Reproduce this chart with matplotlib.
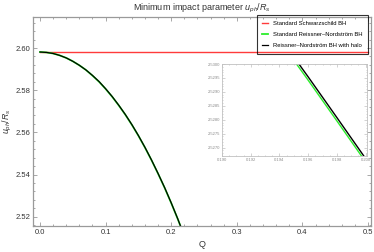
import matplotlib
matplotlib.use("Agg")
import matplotlib.pyplot as plt
from matplotlib.ticker import MultipleLocator, FormatStrFormatter

plt.rcParams["font.family"] = ["Liberation Sans", "DejaVu Sans"]
plt.rcParams["mathtext.fontset"] = "custom"
plt.rcParams["mathtext.rm"] = "Liberation Sans"
plt.rcParams["mathtext.it"] = "Liberation Sans:italic"

# main panel data
q_main = [0.00, 0.01, 0.02, 0.03, 0.04, 0.05, 0.06, 0.07, 0.08, 0.09, 0.10, 0.11,
          0.12, 0.13, 0.14, 0.15, 0.16, 0.17, 0.18, 0.19, 0.20, 0.21, 0.22]
u_rn = [2.5981, 2.5979, 2.5974, 2.5965, 2.5953, 2.5937, 2.5918, 2.5896, 2.5869,
        2.5840, 2.5806, 2.5769, 2.5728, 2.5684, 2.5636, 2.5584, 2.5528, 2.5468,
        2.5404, 2.5337, 2.5265, 2.5189, 2.5108]
u_halo = [2.5981, 2.5979, 2.5974, 2.5965, 2.5953, 2.5937, 2.5918, 2.5896, 2.5870,
          2.5841, 2.5807, 2.5770, 2.5729, 2.5685, 2.5637, 2.5585, 2.5529, 2.5469,
          2.5405, 2.5338, 2.5266, 2.5190, 2.5109]
q_schw = [0.0, 0.5]
u_schw = [2.5981, 2.5981]

# inset (zoom near Q = 0.2)
q_zoom = [0.192, 0.194, 0.196, 0.198, 0.200]
u_rn_zoom = [2.53229, 2.53085, 2.52942, 2.52796, 2.52649]
u_halo_zoom = [2.53241, 2.53097, 2.52954, 2.52808, 2.52661]

RED = "#ff3b3b"
GREEN = "#2bee2b"
SPINE = "#9a9a9a"
TXT = "#333333"

fig = plt.figure(figsize=(3.74, 2.52), dpi=100)
ax = fig.add_axes([0.0882, 0.1032, 0.9038, 0.8293])

ax.plot(q_schw, u_schw, color=RED, lw=1.0, label="Standard Schwarzschild BH")
ax.plot(q_main, u_rn, color=GREEN, lw=1.3, label="Standard Reissner\u2013Nordstr\u00f6m BH")
ax.plot(q_main, u_halo, color="black", lw=0.9, label="Reissner\u2013Nordstr\u00f6m BH with halo")

ax.set_xlim(-0.0107, 0.5046)
ax.set_ylim(2.5156, 2.6147)
ax.xaxis.set_major_locator(MultipleLocator(0.1))
ax.xaxis.set_minor_locator(MultipleLocator(0.02))
ax.yaxis.set_major_locator(MultipleLocator(0.02))
ax.yaxis.set_minor_locator(MultipleLocator(0.004))
ax.xaxis.set_major_formatter(FormatStrFormatter("%.1f"))
ax.yaxis.set_major_formatter(FormatStrFormatter("%.2f"))
ax.tick_params(which="both", direction="in", top=True, right=True,
               color=SPINE, labelsize=5.5, labelcolor=TXT, width=0.6, pad=2)
ax.tick_params(which="major", length=3)
ax.tick_params(which="minor", length=1.6)
for s in ax.spines.values():
    s.set_color(SPINE)
    s.set_linewidth(0.9)

ax.set_title("Minimum impact parameter $u_{ph}/R_s$", fontsize=6.5, color=TXT, pad=5)
ax.set_xlabel("Q", fontsize=6.5, color=TXT, labelpad=3)
ax.set_ylabel("$u_{ph}/R_s$", fontsize=6.3, color=TXT, labelpad=1)

leg = ax.legend(loc="upper right", bbox_to_anchor=(0.984, 0.9405),
                bbox_transform=fig.transFigure, fontsize=4.2, frameon=True,
                fancybox=False, borderaxespad=0, handlelength=0.9,
                handletextpad=0.85, borderpad=1.0, labelspacing=1.0)
leg.get_frame().set_facecolor("none")
leg.get_frame().set_edgecolor("black")
leg.get_frame().set_linewidth(0.8)

# inset
axi = fig.add_axes([0.5936, 0.381, 0.3877, 0.365])
axi.plot(q_zoom, u_rn_zoom, color=GREEN, lw=1.0)
axi.plot(q_zoom, u_halo_zoom, color="black", lw=1.0)
axi.set_xlim(0.190, 0.2001)
axi.set_ylim(2.5267, 2.5300)
axi.xaxis.set_major_locator(MultipleLocator(0.002))
axi.xaxis.set_minor_locator(MultipleLocator(0.0005))
axi.yaxis.set_major_locator(MultipleLocator(0.0005))
axi.yaxis.set_minor_locator(MultipleLocator(0.0001))
axi.xaxis.set_major_formatter(FormatStrFormatter("%.3f"))
axi.yaxis.set_major_formatter(FormatStrFormatter("%.4f"))
axi.tick_params(which="both", direction="in", top=True, right=True,
                color="#b0b0b0", labelsize=3.0, labelcolor="#8a8a8a", width=0.4, pad=1.5)
axi.tick_params(which="major", length=2)
axi.tick_params(which="minor", length=1)
for s in axi.spines.values():
    s.set_color("#c0c0c0")
    s.set_linewidth(0.6)

fig.savefig("out.png", dpi=100)
